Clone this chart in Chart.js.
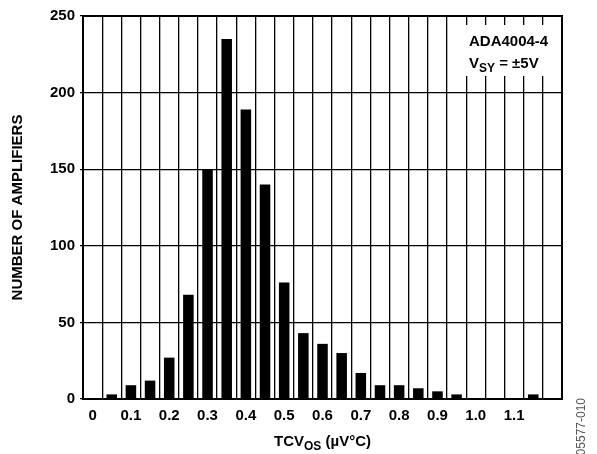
<!DOCTYPE html>
<html>
<head>
<meta charset="utf-8">
<script src="https://cdn.jsdelivr.net/npm/chart.js@4/dist/chart.umd.min.js"></script>
<style>
  html, body { margin: 0; padding: 0; background: #fff; }
  #wrap { width: 597px; height: 454px; position: relative; }
</style>
</head>
<body>
<div id="wrap"><canvas id="chart" width="597" height="454"></canvas></div>
<script>
// Histogram bins (µV/°C), one bin every 0.05
const categories = ['0', '0.05', '0.10', '0.15', '0.20', '0.25', '0.30', '0.35', '0.40', '0.45',
  '0.50', '0.55', '0.60', '0.65', '0.70', '0.75', '0.80', '0.85', '0.90', '0.95',
  '1.00', '1.05', '1.10', '1.15', '1.20'];

// Number of amplifiers in each bin
const counts = [0, 3, 9, 12, 27, 68, 150, 235, 189, 140,
  76, 43, 36, 30, 17, 9, 9, 7, 5, 3,
  0, 0, 0, 3, 0];

// Labels written under the x axis (every other bin)
const xTickLabels = ['0', '', '0.1', '', '0.2', '', '0.3', '', '0.4', '', '0.5', '', '0.6', '',
  '0.7', '', '0.8', '', '0.9', '', '1.0', '', '1.1', '', ''];

const yTicks = [0, 50, 100, 150, 200, 250];

const yTitle = 'NUMBER OF AMPLIFIERS';
const xTitleParts = [['TCV', false], ['OS', true], [' (µV°C)', false]];
const boxLine1 = [['ADA4004-4', false]];
const boxLine2 = [['V', false], ['SY', true], [' = ±5V', false]];
const figureId = '05577-010';

const FONT = '"Liberation Sans", Arial, Helvetica, sans-serif';

function drawRich(ctx, parts, x, y, align) {
  const big = 'bold 15px ' + FONT;
  const small = 'bold 12px ' + FONT;
  let total = 0;
  parts.forEach(([t, sub]) => { ctx.font = sub ? small : big; total += ctx.measureText(t).width; });
  let cx = align === 'center' ? x - total / 2 : x;
  ctx.textAlign = 'left';
  ctx.textBaseline = 'alphabetic';
  parts.forEach(([t, sub]) => {
    ctx.font = sub ? small : big;
    ctx.fillText(t, cx, sub ? y + 4 : y);
    cx += ctx.measureText(t).width;
  });
}

const annotations = {
  id: 'annotations',
  afterDraw(chart) {
    const { ctx, chartArea: a } = chart;
    ctx.save();
    // frame around the plot
    ctx.strokeStyle = '#000';
    ctx.lineWidth = 2;
    ctx.strokeRect(a.left, a.top, a.right - a.left, a.bottom - a.top);

    // device / supply box
    ctx.fillStyle = '#fff';
    ctx.fillRect(a.right - 106, a.top + 9, 99, 51);
    ctx.fillStyle = '#000';
    drawRich(ctx, boxLine1, a.right - 93, a.top + 30, 'left');
    drawRich(ctx, boxLine2, a.right - 93, a.top + 52, 'left');

    // x axis title
    drawRich(ctx, xTitleParts, (a.left + a.right) / 2, 446, 'center');

    // figure number along the right edge
    ctx.translate(585, 398);
    ctx.rotate(-Math.PI / 2);
    ctx.font = '12px ' + FONT;
    ctx.fillStyle = '#555';
    ctx.textAlign = 'right';
    ctx.textBaseline = 'alphabetic';
    ctx.fillText(figureId, 0, 0);
    ctx.restore();
  }
};

new Chart(document.getElementById('chart'), {
  type: 'bar',
  data: {
    labels: categories,
    datasets: [{
      data: counts,
      backgroundColor: '#000',
      borderWidth: 0,
      barPercentage: 0.55,
      categoryPercentage: 1.0
    }]
  },
  options: {
    responsive: false,
    animation: false,
    devicePixelRatio: 1,
    layout: { padding: { top: 16, right: 35, left: 0, bottom: 0 } },
    plugins: { legend: { display: false }, tooltip: { enabled: false } },
    scales: {
      x: {
        type: 'category',
        grid: { offset: true, color: '#000', lineWidth: 1.3, drawTicks: false },
        border: { color: '#000', width: 2 },
        ticks: {
          autoSkip: false,
          maxRotation: 0,
          minRotation: 0,
          padding: 8,
          color: '#000',
          font: { family: FONT, size: 15, weight: 'bold' },
          callback: (v, i) => xTickLabels[i]
        },
        afterFit: s => { s.height = 55; }
      },
      y: {
        min: 0,
        max: 250,
        afterBuildTicks: s => { s.ticks = yTicks.map(v => ({ value: v })); },
        grid: { color: '#000', lineWidth: 1.3, tickLength: 3 },
        border: { color: '#000', width: 2 },
        ticks: {
          padding: 5,
          color: '#000',
          font: { family: FONT, size: 15, weight: 'bold' }
        },
        title: {
          display: true,
          text: yTitle,
          color: '#000',
          padding: { top: 9, bottom: 0 },
          font: { family: FONT, size: 15, weight: 'bold' }
        },
        afterFit: s => { s.width = 83; }
      }
    }
  },
  plugins: [annotations]
});
</script>
</body>
</html>
